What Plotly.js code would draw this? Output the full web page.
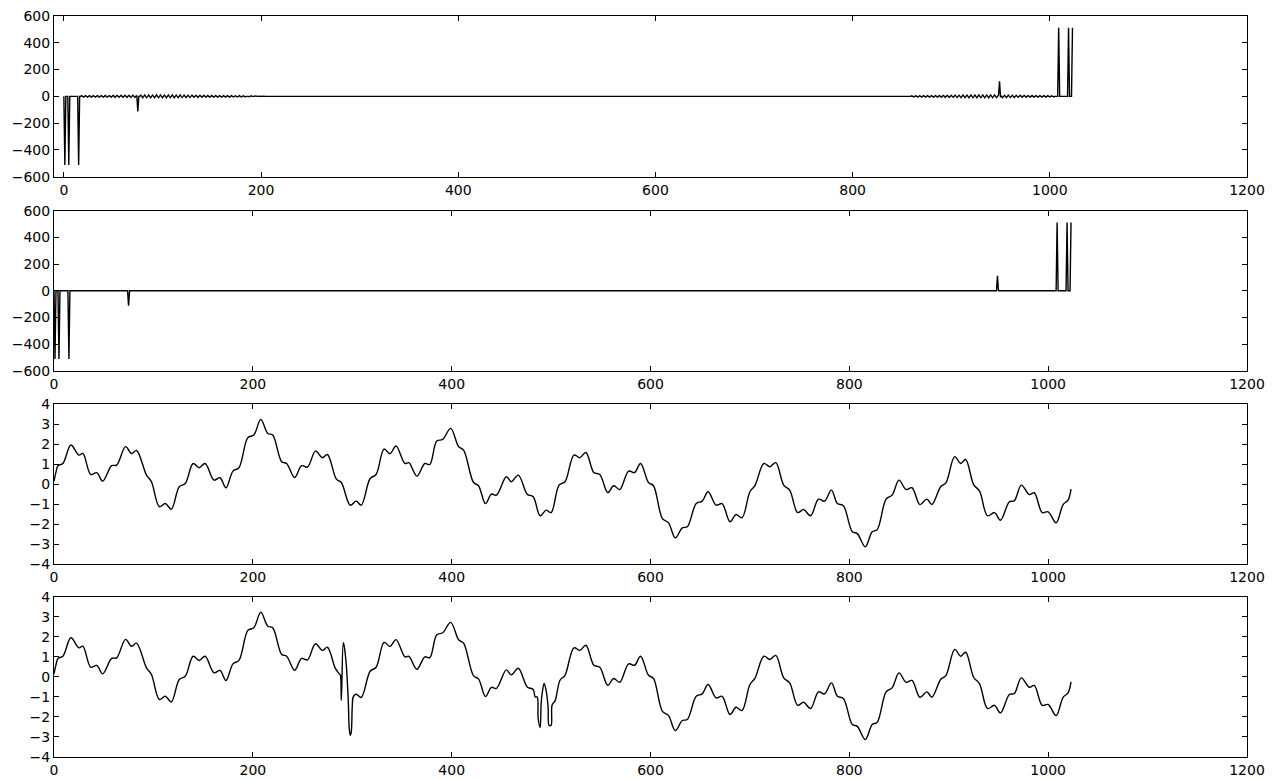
<!DOCTYPE html>
<html>
<head>
<meta charset="utf-8">
<script src="https://cdn.plot.ly/plotly-3.0.1.min.js"></script>
<style>html,body{margin:0;padding:0;background:#fff;}#chart{width:1284px;height:780px;}</style>
</head>
<body>
<div id="chart"></div>
<script>
// ---- Spectrum (imaginary part) : spike bins and values ----
const nBins = 1024;
const spikeBins = [1, 5, 15, 75, 949, 1009, 1019, 1023];
const spikeVals = [-512, -512, -512, -112, 112, 512, 512, 512];

// small ripple in the noisy spectrum, read at every 2nd bin
const rippleLeftStart = 18;
const rippleLeft = [5,-5,6,-6,5,-6,6,-5,6,-7,6,-6,7,-6,6,-7,7,-8,7,-7,8,-7,8,-8,7,-8,9,-8,
  6,0,9,
  -10,11,-9,10,-11,9,-10,12,-9,11,-10,9,-11,10,-9,11,-10,9,-9,10,-8,9,-9,8,-8,9,-7,8,-8,7,-7,8,-6,7,-6,7,-6,6,-6,6,-5,5,-5,5,-5,5,-4,4,-4,5,-4,4,
  -4,3,-3,4,-3,3,-3,2,-2,2];
const rippleRightStart = 850;
const rippleRight = [2,-2,3,-2,3,
  4,-4,4,-5,4,-5,5,-5,5,-6,6,-5,6,-6,6,-7,7,-8,7,-8,8,-7,9,-8,8,-9,10,-9,9,-10,11,-9,10,-11,10,-9,11,-10,9,-10,11,-9,10,-9,8,
  -3,
  -9,8,-9,9,-8,8,-9,8,-7,8,-7,7,-7,6,-6,7,-6,6,-5,6,-5,5,-5,5,-4,4,-4,3];

// ---- Time-domain signal (denoised) ----
const tClean = [0,2,4,9,17,25,29,37,43,49,58,63,72,78,83,93,98,106,112,118,126,132,140,146,152,161,167,173,180,186,195,201,208,215,220,229,234,242,249,255,263,270,275,284,289,298,304,309,318,324,332,338,344,353,357,365,373,378,385,391,399,407,412,422,427,434,440,445,455,460,467,476,482,489,495,500,508,514,523,529,535,543,549,557,563,569,578,584,590,598,603,612,618,625,632,637,646,652,658,666,672,680,686,692,700,705,714,720,726,734,740,748,754,761,769,775,782,788,794,803,808,816,823,828,837,843,850,857,863,871,878,883,892,897,906,912,917,925,931,939,946,952,961,966,973,981,986,994,1000,1008,1015,1020,1023];
const vClean = [0.15,0.6,0.92,1.03,1.95,1.45,1.53,0.48,0.57,0.15,0.92,0.95,1.87,1.53,1.68,0.45,0.12,-1.13,-0.97,-1.25,-0.13,0.03,1.03,0.82,1.03,0.2,0.32,-0.18,0.65,0.82,2.32,2.45,3.23,2.53,2.45,1.12,1.03,0.33,0.92,0.85,1.65,1.32,1.48,0.25,0.08,-1.05,-0.85,-1.05,0.28,0.48,1.75,1.52,1.9,1.03,1.07,0.4,1.03,0.98,2.15,2.23,2.78,1.87,1.7,0.08,-0.08,-0.97,-0.5,-0.55,0.37,0.12,0.45,-0.5,-0.63,-1.58,-1.3,-1.42,-0.05,0.12,1.45,1.32,1.58,0.58,0.48,-0.42,-0.08,-0.27,0.65,0.58,1.03,0.08,-0.08,-1.72,-1.92,-2.68,-2.18,-2.13,-0.97,-0.85,-0.38,-1.05,-0.97,-1.88,-1.52,-1.68,-0.38,-0.08,1.03,0.87,1.07,-0.05,-0.3,-1.42,-1.27,-1.58,-0.75,-0.85,-0.3,-0.97,-1.08,-2.38,-2.47,-3.13,-2.38,-2.27,-0.75,-0.55,0.2,-0.27,-0.18,-1.02,-0.75,-1.02,-0.12,0.05,1.37,1.03,1.23,-0.02,-0.35,-1.58,-1.42,-1.8,-0.88,-0.83,-0.05,-0.52,-0.43,-1.42,-1.38,-1.93,-1.02,-0.8,-0.25];

// ---- Time-domain signal (original, with glitches) ----
const tNoisy = [0,2,4,9,17,25,29,37,43,49,58,63,72,78,83,93,98,106,112,118,126,132,140,146,152,161,167,173,180,186,195,201,208,215,220,229,234,242,249,255,263,270,275,283,287,288,289,291,292,294,296,297,298,299,300,301,304,309,318,324,332,338,344,353,357,365,373,378,385,391,399,407,412,422,427,434,440,445,455,460,467,476,482,484,486,487,489,490,491,493,495,497,498,500,501,504,509,514,523,529,535,543,549,557,563,569,578,584,590,598,603,612,618,625,632,637,646,652,658,666,672,680,686,692,700,705,714,720,726,734,740,748,754,761,769,775,782,788,794,803,808,816,823,828,837,843,850,857,863,871,878,883,892,897,906,912,917,925,931,939,946,952,961,966,973,981,986,994,1000,1008,1015,1020,1023];
const vNoisy = [0.15,0.6,0.92,1.03,1.95,1.45,1.53,0.48,0.57,0.15,0.92,0.95,1.87,1.53,1.68,0.45,0.12,-1.13,-0.97,-1.25,-0.13,0.03,1.03,0.82,1.03,0.2,0.32,-0.18,0.65,0.82,2.32,2.45,3.23,2.53,2.45,1.12,1.03,0.33,0.92,0.85,1.65,1.32,1.48,0.42,0.15,0.1,-1.17,1.7,1.5,0.6,-1.2,-2.6,-2.92,-2.75,-1.5,-1.0,-0.87,-1.03,0.28,0.48,1.72,1.52,1.86,1.0,1.02,0.38,1.0,0.96,2.1,2.2,2.72,1.85,1.68,0.05,-0.1,-0.98,-0.52,-0.58,0.35,0.1,0.43,-0.5,-0.63,-1.0,-1.0,-2.08,-2.53,-1.33,-0.83,-0.33,-0.67,-1.5,-2.42,-2.42,-1.4,-1.2,-0.17,0.08,1.45,1.32,1.58,0.58,0.48,-0.42,-0.08,-0.27,0.65,0.58,1.03,0.08,-0.08,-1.72,-1.92,-2.68,-2.18,-2.13,-0.97,-0.85,-0.38,-1.05,-0.97,-1.88,-1.52,-1.68,-0.38,-0.08,1.03,0.87,1.07,-0.05,-0.3,-1.42,-1.27,-1.58,-0.75,-0.85,-0.3,-0.97,-1.08,-2.38,-2.47,-3.13,-2.38,-2.27,-0.75,-0.55,0.2,-0.27,-0.18,-1.02,-0.75,-1.02,-0.12,0.05,1.37,1.03,1.23,-0.02,-0.35,-1.58,-1.42,-1.8,-0.88,-0.83,-0.05,-0.52,-0.43,-1.42,-1.38,-1.93,-1.02,-0.8,-0.25];

// ---- Axis ticks ----
const specTicks = [-600,-400,-200,0,200,400,600];
const sigTicks = [-4,-3,-2,-1,0,1,2,3,4];
const xTicks = [0,200,400,600,800,1000,1200];

// ---- build spectra ----
const bins = [];
const specClean = [];
const specNoisy = [];
for (let k = 0; k < nBins; k++) { bins.push(k); specClean.push(0); specNoisy.push(0); }
rippleLeft.forEach((v, i) => { specNoisy[rippleLeftStart + 2 * i] = v; });
rippleRight.forEach((v, i) => { specNoisy[rippleRightStart + 2 * i] = v; });
spikeBins.forEach((k, i) => { specClean[k] = spikeVals[i]; specNoisy[k] = spikeVals[i]; });

const lineSpec = {color: 'black', width: 1.4};
const lineSig = {color: 'black', width: 1.4, shape: 'spline', smoothing: 1};

const traces = [
  {x: bins, y: specNoisy, xaxis: 'x', yaxis: 'y', mode: 'lines', line: lineSpec, hoverinfo: 'skip'},
  {x: bins, y: specClean, xaxis: 'x2', yaxis: 'y2', mode: 'lines', line: lineSpec, hoverinfo: 'skip'},
  {x: tClean, y: vClean, xaxis: 'x3', yaxis: 'y3', mode: 'lines', line: lineSig, hoverinfo: 'skip'},
  {x: tNoisy, y: vNoisy, xaxis: 'x4', yaxis: 'y4', mode: 'lines', line: lineSig, hoverinfo: 'skip'}
];

function ax(extra) {
  return Object.assign({
    showline: true, linecolor: 'black', linewidth: 1, mirror: 'ticks',
    ticks: 'inside', ticklen: 5, tickwidth: 1, tickcolor: 'black',
    showgrid: false, zeroline: false, tickmode: 'array', fixedrange: true,
    tickfont: {family: 'DejaVu Sans', size: 14, color: 'black'}
  }, extra);
}

const layout = {
  width: 1284, height: 780,
  margin: {l: 54, r: 37, t: 16, b: 23, pad: 0},
  paper_bgcolor: 'white', plot_bgcolor: 'white',
  showlegend: false,
  font: {family: 'DejaVu Sans', size: 14, color: 'black'},
  xaxis:  ax({anchor: 'y',  domain: [0, 1], range: [-10, 1200], tickvals: xTicks}),
  yaxis:  ax({anchor: 'x',  domain: [0.7831, 1], range: [-600, 600], tickvals: specTicks}),
  xaxis2: ax({anchor: 'y2', domain: [0, 1], range: [0, 1200], tickvals: xTicks}),
  yaxis2: ax({anchor: 'x2', domain: [0.5213, 0.7372], range: [-600, 600], tickvals: specTicks}),
  xaxis3: ax({anchor: 'y3', domain: [0, 1], range: [0, 1200], tickvals: xTicks}),
  yaxis3: ax({anchor: 'x3', domain: [0.2601, 0.4764], range: [-4, 4], tickvals: sigTicks}),
  xaxis4: ax({anchor: 'y4', domain: [0, 1], range: [0, 1200], tickvals: xTicks}),
  yaxis4: ax({anchor: 'x4', domain: [0, 0.2163], range: [-4, 4], tickvals: sigTicks})
};

Plotly.newPlot('chart', traces, layout, {staticPlot: true, displayModeBar: false});
</script>
</body>
</html>
